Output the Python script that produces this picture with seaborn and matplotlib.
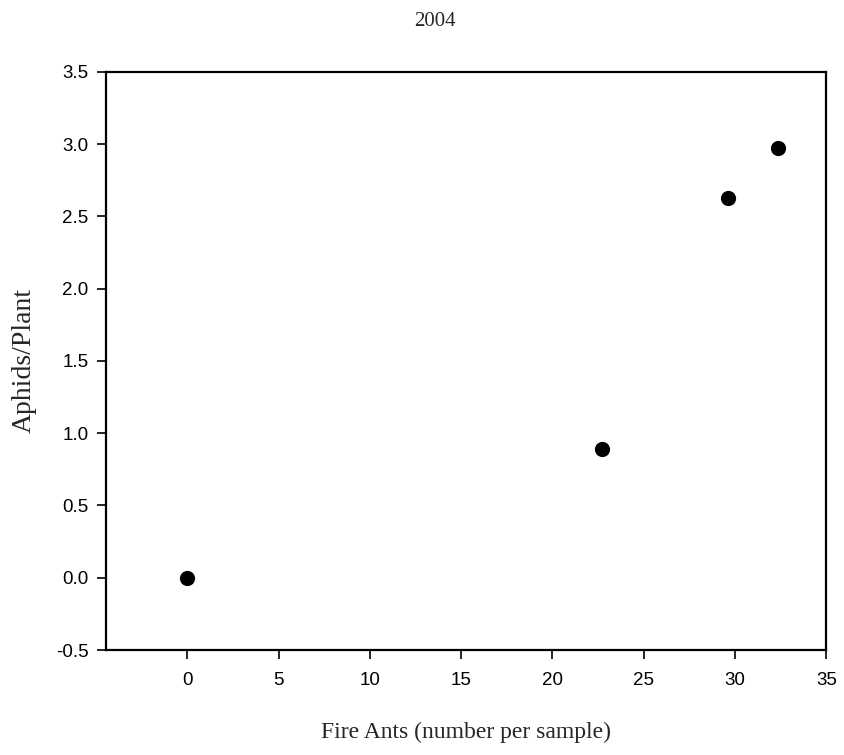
import matplotlib
matplotlib.use("Agg")
import matplotlib.pyplot as plt
import pandas as pd
import seaborn as sns

# fire ants vs aphids, 2004
fire_ants = [0.0, 22.7, 29.6, 32.35]
aphids_per_plant = [0.0, 0.89, 2.63, 2.97]
x_ticks = [0, 5, 10, 15, 20, 25, 30, 35]
y_ticks = [-0.5, 0.0, 0.5, 1.0, 1.5, 2.0, 2.5, 3.0, 3.5]

df = pd.DataFrame({"ants": fire_ants, "aphids": aphids_per_plant})

sns.set_style("ticks")
plt.rcParams["font.family"] = ["Liberation Sans", "DejaVu Sans"]

fig = plt.figure(figsize=(8.45, 7.55), dpi=100)
ax = fig.add_axes([0.1254, 0.139, 0.978 - 0.1254, 0.905 - 0.139])

sns.scatterplot(data=df, x="ants", y="aphids", ax=ax, color="black",
                s=120, marker="o", edgecolor="black", linewidth=0, zorder=3)

ax.set_xlim(-4.45, 35)
ax.set_ylim(-0.5, 3.5)
ax.set_xticks(x_ticks)
ax.set_xticklabels([str(t) for t in x_ticks])
ax.set_yticks(y_ticks)
ax.set_yticklabels([f"{t:.1f}" for t in y_ticks])
ax.tick_params(axis="both", direction="out", length=6.5, width=1.2,
               labelsize=13.5, color="black", labelcolor="black")
ax.tick_params(axis="x", pad=9)
ax.tick_params(axis="y", pad=6)
for sp in ax.spines.values():
    sp.set_linewidth(1.6)
    sp.set_color("black")
    sp.set_visible(True)

serif = ["Liberation Serif", "DejaVu Serif"]
ax.set_xlabel("Fire Ants (number per sample)", family=serif, fontsize=17, labelpad=24)
ax.set_ylabel("Aphids/Plant", family=serif, fontsize=20, labelpad=14)
fig.text(0.515, 0.971, "2004", ha="center", va="center", family=serif, fontsize=15)

fig.savefig("out.png", dpi=100)
